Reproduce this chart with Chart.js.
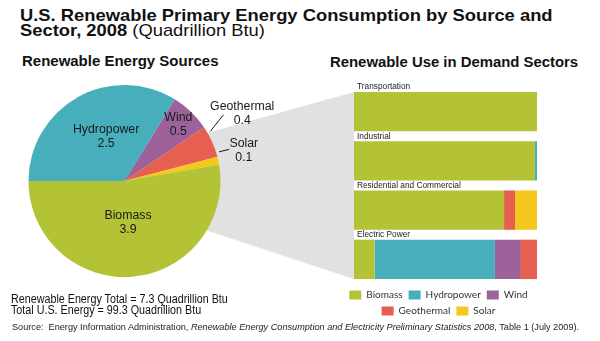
<!DOCTYPE html>
<html>
<head>
<meta charset="utf-8">
<script src="https://cdn.jsdelivr.net/npm/chart.js@4.4.0/dist/chart.umd.min.js"></script>
<style>
body { margin: 0; background: #fff; }
#page { position: relative; width: 600px; height: 341px; overflow: hidden; font-family: "Liberation Sans", Arial, sans-serif; color: #111; }
.txt { position: absolute; white-space: nowrap; transform-origin: 0 0; }
#pieChart { position: absolute; left: 0; top: 80px; }
#barChart { position: absolute; left: 340px; top: 80px; }
</style>
</head>
<body>
<div id="page">
  <div class="txt" style="left:19.5px; top:7.6px; font-size:17px; line-height:15px; font-weight:bold; transform:scaleX(1.08);">U.S. Renewable Primary Energy Consumption by Source and<br>Sector, 2008 <span style="font-weight:normal">(Quadrillion Btu)</span></div>
  <div class="txt" style="left:21.5px; top:53.9px; font-size:14px; line-height:14px; font-weight:bold; transform:scaleX(1.07);">Renewable Energy Sources</div>
  <div class="txt" style="left:330px; top:54.9px; font-size:14px; line-height:14px; font-weight:bold; transform:scaleX(1.063);">Renewable Use in Demand Sectors</div>
  <canvas id="pieChart" width="354" height="220"></canvas>
  <canvas id="barChart" width="197" height="246"></canvas>
  <div class="txt" style="left:11.3px; top:294.4px; font-size:12px; line-height:10.3px; transform:scaleX(0.895);">Renewable Energy Total = 7.3 Quadrillion Btu<br>Total U.S. Energy = 99.3 Quadrillion Btu</div>
  <div class="txt" style="left:11.5px; top:323.1px; font-size:9px; line-height:9px; color:#222; transform:scaleX(1.016);">Source:&nbsp; Energy Information Administration, <i>Renewable Energy Consumption and Electricity Preliminary Statistics 2008</i>, Table 1 (July 2009).</div>
</div>
<script>
// pie: renewable sources, quadrillion Btu
let sources = ['Hydropower', 'Wind', 'Geothermal', 'Solar', 'Biomass'];
let sourceValues = [2.5, 0.5, 0.4, 0.1, 3.9];

// bars: share of each sector's renewable use, percent
let sectors = ['Transportation', 'Industrial', 'Residential and Commercial', 'Electric Power'];
let biomassShare = [100, 98.9, 82, 11.3];
let hydroShare = [0, 1.1, 0, 65.7];
let windShare = [0, 0, 0, 14.2];
let geoShare = [0, 0, 6, 8.8];
let solarShare = [0, 0, 12, 0];

let colors = {
    Biomass: '#b4c236',
    Hydropower: '#47afbc',
    Wind: '#9c6299',
    Geothermal: '#e75f4f',
    Solar: '#f5c91c'
};

let pieCanvas = document.getElementById('pieChart');
let barCanvas = document.getElementById('barChart');
let barChart;
let pieChart;

// sector name above each bar
const sectorNames = {
    id: 'sectorNames',
    afterDatasetsDraw(chart, args, opts) {
        let ctx = chart.ctx;
        let bars = chart.getDatasetMeta(0).data;
        ctx.save();
        ctx.font = opts.font;
        ctx.fillStyle = opts.color;
        ctx.textAlign = 'left';
        ctx.textBaseline = 'alphabetic';
        bars.forEach((bar, i) => {
            ctx.fillText(chart.data.labels[i], chart.chartArea.left + 3, bar.y - bar.height / 2 - 2.5);
        });
        ctx.restore();
    }
};

// grey wedge from the pie to the bars
const funnel = {
    id: 'funnel',
    beforeDatasetsDraw(chart, args, opts) {
        let ctx = chart.ctx;
        let arc = chart.getDatasetMeta(0).data[0];
        let bars = barChart.getDatasetMeta(0).data;
        let first = bars[0];
        let last = bars[bars.length - 1];
        let dx = barCanvas.offsetLeft - pieCanvas.offsetLeft;
        let dy = barCanvas.offsetTop - pieCanvas.offsetTop;
        let right = barChart.chartArea.left + dx;
        ctx.save();
        ctx.fillStyle = opts.color;
        ctx.beginPath();
        ctx.moveTo(arc.x, arc.y - opts.spreadTop);
        ctx.lineTo(right, first.y - first.height / 2 + dy);
        ctx.lineTo(right, last.y + last.height / 2 + dy);
        ctx.lineTo(arc.x, arc.y + opts.spreadBottom);
        ctx.closePath();
        ctx.fill();
        ctx.restore();
    }
};

// name + value for each slice, some with a leader line
const pieLabels = {
    id: 'pieLabels',
    afterDatasetsDraw(chart, args, opts) {
        let ctx = chart.ctx;
        let arcs = chart.getDatasetMeta(0).data;
        let values = chart.data.datasets[0].data;
        ctx.save();
        ctx.font = opts.font;
        ctx.fillStyle = opts.color;
        ctx.strokeStyle = opts.color;
        ctx.lineWidth = 1;
        ctx.textAlign = 'center';
        ctx.textBaseline = 'middle';
        arcs.forEach((arc, i) => {
            let p = opts.place[i];
            let a = (arc.startAngle + arc.endAngle) / 2 + p.shift * Math.PI / 180;
            let tx, ty;
            if (p.line) {
                let sx = arc.x + Math.cos(a) * (arc.outerRadius + 3);
                let sy = arc.y + Math.sin(a) * (arc.outerRadius + 3);
                let ex = sx + p.line[0];
                let ey = sy + p.line[1];
                ctx.beginPath();
                ctx.moveTo(sx, sy);
                ctx.lineTo(ex, ey);
                ctx.stroke();
                tx = ex + p.text[0];
                ty = ey + p.text[1];
            } else {
                tx = arc.x + Math.cos(a) * arc.outerRadius * p.r;
                ty = arc.y + Math.sin(a) * arc.outerRadius * p.r;
            }
            ctx.fillText(chart.data.labels[i], tx, ty - opts.lineHeight / 2);
            ctx.fillText(values[i].toFixed(1), tx, ty + opts.lineHeight / 2);
        });
        ctx.restore();
    }
};

function makeBarSet(name, values) {
    return {
        label: name,
        data: values,
        backgroundColor: colors[name],
        borderWidth: 0,
        categoryPercentage: 1,
        barPercentage: 0.8
    };
}

function createBarChart() {
    barChart = new Chart(barCanvas, {
        type: 'bar',
        data: {
            labels: sectors,
            datasets: [
                makeBarSet('Biomass', biomassShare),
                makeBarSet('Hydropower', hydroShare),
                makeBarSet('Wind', windShare),
                makeBarSet('Geothermal', geoShare),
                makeBarSet('Solar', solarShare)
            ]
        },
        options: {
            responsive: false,
            animation: false,
            events: [],
            indexAxis: 'y',
            layout: { padding: { top: 7, left: 0, right: 0, bottom: 0 } },
            scales: {
                x: { display: false, stacked: true, min: 0, max: 100 },
                y: {
                    display: true,
                    stacked: true,
                    grid: { display: false },
                    border: { display: false },
                    ticks: { display: false },
                    afterFit: scale => { scale.width = 14; }
                }
            },
            plugins: {
                tooltip: { enabled: false },
                legend: {
                    position: 'bottom',
                    labels: {
                        boxWidth: 12,
                        boxHeight: 9,
                        padding: 6,
                        color: '#333',
                        font: { family: 'Lato', size: 10 }
                    }
                },
                sectorNames: { font: '8.3px "Liberation Sans", Arial, sans-serif', color: '#222' }
            }
        },
        plugins: [sectorNames]
    });
}

function createPieChart() {
    pieChart = new Chart(pieCanvas, {
        type: 'pie',
        data: {
            labels: sources,
            datasets: [{
                data: sourceValues,
                backgroundColor: sources.map(s => colors[s]),
                borderWidth: 0,
                hoverOffset: 0,
                offset: 0
            }]
        },
        options: {
            responsive: false,
            animation: false,
            events: [],
            rotation: -90,
            layout: { padding: { left: 28.5, right: 133.5, top: 5, bottom: 23 } },
            plugins: {
                tooltip: { enabled: false },
                legend: { display: false },
                funnel: { color: '#e1e1e1', spreadTop: 25, spreadBottom: 22.5 },
                pieLabels: {
                    font: '12.3px "Liberation Sans", Arial, sans-serif',
                    color: '#1a1a1a',
                    lineHeight: 14,
                    place: [
                        { r: 0.5, shift: 6.7 },
                        { r: 0.81, shift: 0 },
                        { shift: -5.7, line: [13.3, -16.7], text: [18.7, -0.8] },
                        { shift: -5, line: [10, -2.4], text: [14.7, 1.5] },
                        { r: 0.43, shift: 0 }
                    ]
                }
            }
        },
        plugins: [funnel, pieLabels]
    });
}

createBarChart();
createPieChart();
</script>
</body>
</html>
